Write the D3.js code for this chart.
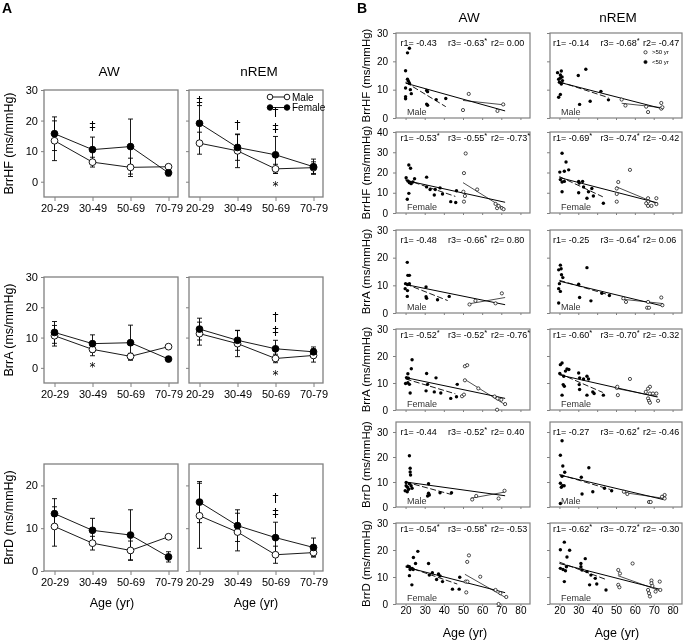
<!DOCTYPE html>
<html><head><meta charset="utf-8">
<script src="https://cdn.jsdelivr.net/npm/d3@7"></script>
<style>body{margin:0;background:#fff} text{filter:grayscale(1)}</style>
</head><body><svg id="c" width="685" height="640"></svg>
<script>
// ---------------- DATA: panel A (mean ± SD by age group) ----------------
const ageGroups = ["20-29", "30-49", "50-69", "70-79"];

const hfAwMaleMean = [13.4, 6.4, 4.7, 4.9];
const hfAwMaleSd = [6.5, 1.6, 3.0, 0.5];
const hfAwFemaleMean = [15.7, 10.5, 11.5, 2.9];
const hfAwFemaleSd = [5.5, 4.1, 9.0, 1.0];
const hfNremMaleMean = [12.6, 10.1, 4.2, 4.6];
const hfNremMaleSd = [3.6, 5.5, 1.5, 1.9];
const hfNremFemaleMean = [19.1, 11.2, 8.8, 4.9];
const hfNremFemaleSd = [5.8, 4.2, 6.0, 2.5];

const aAwMaleMean = [10.6, 6.1, 3.8, 7.0];
const aAwMaleSd = [3.4, 2.1, 1.0, 0.4];
const aAwFemaleMean = [11.7, 8.0, 8.3, 2.9];
const aAwFemaleSd = [3.6, 2.9, 5.8, 0.8];
const aNremMaleMean = [11.3, 8.0, 3.1, 4.1];
const aNremMaleSd = [3.8, 4.3, 1.4, 2.2];
const aNremFemaleMean = [12.8, 9.1, 6.3, 5.3];
const aNremFemaleSd = [3.6, 3.3, 2.8, 1.6];

const dAwMaleMean = [10.4, 6.5, 4.8, 8.0];
const dAwMaleSd = [4.6, 1.6, 2.2, 0.3];
const dAwFemaleMean = [13.4, 9.5, 8.4, 3.3];
const dAwFemaleSd = [3.5, 2.8, 5.9, 1.2];
const dNremMaleMean = [12.9, 9.1, 3.8, 4.3];
const dNremMaleSd = [7.6, 4.4, 2.0, 1.0];
const dNremFemaleMean = [16.1, 10.6, 7.8, 5.5];
const dNremFemaleSd = [4.8, 3.7, 3.6, 2.2];

// significance marks: [row, col, group, value, symbol]
const sigMarks = [
  [0, 0, "30-49", 18.0, "‡"],
  [0, 1, "20-29", 26.2, "‡"],
  [0, 1, "30-49", 18.4, "†"],
  [0, 1, "50-69", 22.6, "†"],
  [0, 1, "50-69", 17.5, "‡"],
  [0, 1, "50-69", -0.3, "*"],
  [1, 0, "30-49", 1.3, "*"],
  [1, 1, "50-69", 16.8, "†"],
  [1, 1, "50-69", 11.9, "‡"],
  [1, 1, "50-69", -1.3, "*"],
  [2, 1, "50-69", 17.0, "†"],
  [2, 1, "50-69", 13.5, "‡"]
];

// ---------------- DATA: panel B (age, value) ----------------
const hfAwMaleYoung = [[21,23],[22,24.6],[20,16.7],[21,13.7],[21.5,13],[20,10.6],[22.5,10],[20,7.5],[20,6.8],[23,8.6],[22,12.3],[31,9.7],[31.5,9.3],[31,4.9],[31.5,4.5],[36,6.5],[41,6.9]];
const hfAwMaleOld = [[50,2.8],[53,8.5],[68,2.5],[71,4.8]];
const hfAwMaleFitAll = [[20,12.3],[72,2.5]];
const hfAwMaleFitYoung = [[20,12.6],[41,4]];
const hfAwMaleFitOld = [[50,6.2],[72,4.6]];

const hfNremMaleYoung = [[19,16],[20.5,15.2],[21,16.6],[19.6,13.7],[20.5,14.1],[21.4,14.5],[20,12.6],[21,12],[19.6,7.3],[20.5,8.3],[21.6,13.2],[30,15],[34,17.2],[30.7,4.8],[36.3,5.9],[42,9.4],[46,6.4]];
const hfNremMaleOld = [[53,6.5],[55,4.4],[67,2.1],[66,4],[74,5.3],[74,3.3],[74.6,3.8]];
const hfNremMaleFitAll = [[20,12.6],[75,3.2]];
const hfNremMaleFitYoung = [[20,12.8],[46,7.2]];
const hfNremMaleFitOld = [[53,5.2],[75,3.6]];

const hfAwFemaleYoung = [[20.3,17.4],[21.7,23.7],[22.6,22.1],[21.2,15.8],[22,15],[22.9,14.5],[23.8,15.3],[24.7,16.9],[21.7,9.7],[20.9,6.8],[31,17.7],[31,12.9],[32.8,11.6],[35.5,11.6],[38,12.4],[35,8.9],[39.3,9.4],[43.6,5.6],[46.2,5.2],[46.6,11]];
const hfAwFemaleOld = [[51.4,29.4],[50.5,19.7],[50.2,10.5],[51,8.4],[50.5,5.6],[57.4,11.6],[67,4.5],[67.8,2.4],[70.3,2.4],[71.2,1.9],[68.6,3.5]];
const hfAwFemaleFitAll = [[20,16.1],[72,5.3]];
const hfAwFemaleFitYoung = [[20,16.5],[46,8.2]];
const hfAwFemaleFitOld = [[50,15],[72,2]];

const hfNremFemaleYoung = [[21.4,29.5],[22.6,20.6],[23.5,25.2],[24.9,21.3],[20.2,20.2],[20.5,16.5],[21.4,15.3],[22.6,15.6],[21.4,10.5],[30.2,15.6],[30.5,14.8],[32.3,15.6],[32.8,12.9],[30.2,10],[35.4,10.5],[34.6,7.3],[37.2,12.1],[38,8.4],[43.3,4.8]];
const hfNremFemaleOld = [[51.2,15.3],[50.4,12.1],[50.4,9.4],[50.4,5.6],[57.4,21.3],[67,7.3],[67,5.6],[67,3.5],[66,4.8],[68.8,3.5],[71.4,7.3],[71.4,4.4]];
const hfNremFemaleFitAll = [[20,17.5],[72,5]];
const hfNremFemaleFitYoung = [[20,18],[43,8]];
const hfNremFemaleFitOld = [[50,13],[72,4.5]];

const aAwMaleYoung = [[20.9,18.3],[21.2,13.6],[22,13.6],[20,10.6],[21,10.3],[22,10.6],[19.8,8.8],[21,8.1],[20.9,6],[30.7,9.4],[30.7,5.9],[31,5.3],[36.7,4.8],[42.8,6]];
const aAwMaleOld = [[53.4,3.1],[56.5,4.4],[67,3.5],[70.3,7.1]];
const aAwMaleFitAll = [[20,10.3],[72,3]];
const aAwMaleFitYoung = [[20,10.5],[42,4.5]];
const aAwMaleFitOld = [[53,3.3],[72,5.6]];

const aNremMaleYoung = [[20.5,17.3],[20.9,16],[19.6,15.6],[21.1,13.8],[21.8,12.8],[20,10.6],[19.6,8.8],[20.5,7.8],[19.6,3.6],[34.6,16.4],[30.2,10.4],[30.7,5.6],[36.7,4.4],[42.5,7.1],[46.5,6.3]];
const aNremMaleOld = [[53.9,5.3],[55.3,4],[67,4],[66.5,1.9],[67.5,1.9],[74,5.6],[74.6,2.8]];
const aNremMaleFitAll = [[20,11.5],[75,2.5]];
const aNremMaleFitYoung = [[20,11.8],[46,6.6]];
const aNremMaleFitOld = [[53,5],[75,3.4]];

const aAwFemaleYoung = [[21.2,13.4],[23,15.3],[23.4,18.6],[31,13.5],[35.9,11.9],[20.5,12],[21.5,11.8],[20,9.8],[21.2,10.1],[22,9.5],[22.4,6.3],[30.7,7.1],[31.5,9.5],[35,6.7],[38.4,6.3],[43.6,4.3],[46.6,4.9],[47,9.5]];
const aAwFemaleOld = [[51,16.2],[52.2,16.6],[51,11],[58,8],[49.5,5.1],[50.5,5.7],[68,4.3],[70,3.8],[72,2.2],[67.8,0.1],[66.5,5]];
const aAwFemaleFitAll = [[20,12],[72,4.3]];
const aAwFemaleFitYoung = [[20,11.5],[46,6]];
const aAwFemaleFitOld = [[51,11.3],[72,2]];

const aNremFemaleYoung = [[20.5,16.8],[21.4,17.4],[20.2,13.5],[22.3,12.5],[23.2,14.4],[24,15.2],[25,15],[22,9.4],[30.2,13.7],[30.7,11.9],[32.8,11.5],[34.6,12.5],[35.4,11.5],[30.5,9.4],[22.6,8.8],[21.4,5.5],[30.7,7.6],[34.6,5.5],[37.7,6.7],[38.4,6.1],[43.3,5.5]];
const aNremFemaleOld = [[50.4,8.2],[50.7,8.6],[51,5.5],[57.4,11.5],[68,8.6],[67,7.9],[68,6.1],[69.6,6.1],[71.4,6.1],[67,4.3],[67.5,3.4],[68,2.7],[72.3,3.4],[65.8,6.7]];
const aNremFemaleFitAll = [[20,13],[72,4.8]];
const aNremFemaleFitYoung = [[20,13.5],[43,6.5]];
const aNremFemaleFitOld = [[50,8],[72,5]];

const dAwMaleYoung = [[22,20.5],[22.4,15.5],[22.4,14],[22.6,12.8],[20.3,8.5],[21,7.9],[21.6,7.1],[19.8,6.5],[20.9,6.1],[22,9.3],[22.9,8.5],[23.4,7.5],[20.3,9.8],[32,9.3],[32,5.5],[32.4,4.8],[31.5,4.4],[38,5.7],[44,5.7]];
const dAwMaleOld = [[54.8,3],[56.9,4.4],[68.6,3.4],[71.7,6.5]];
const dAwMaleFitAll = [[20,10],[72,4.5]];
const dAwMaleFitYoung = [[20,10],[44,5]];
const dAwMaleFitOld = [[54,3.5],[72,6]];

const dNremMaleYoung = [[20.5,20.7],[21.4,26.5],[21.8,16.4],[22.8,13.9],[20.5,9.5],[21,7.9],[21.6,8.5],[22.5,8.5],[21.4,12.3],[20.5,1.4],[31.6,11.9],[35.6,15.7],[32,5.2],[37.7,6.1],[43.9,7.5],[47.7,6.5]];
const dNremMaleOld = [[54.2,6.1],[56,5.2],[67.5,2],[68.4,2],[75.8,4.8],[75.8,3.4],[74.4,4.1]];
const dNremMaleFitAll = [[20,12.8],[75,3]];
const dNremMaleFitYoung = [[20,13],[47,7]];
const dNremMaleFitOld = [[54,5.8],[75,3.5]];

const dAwFemaleYoung = [[26.4,19.5],[24.1,17.2],[25.2,15],[22,13.8],[21.2,14],[22.4,12.8],[23.4,13.2],[24,12.8],[22,10.5],[23.3,7.1],[32,15],[32.4,10.7],[34,11.6],[36.2,9.1],[37.2,11.1],[38,10.4],[39.3,8.3],[44.5,5.5],[48,5.5],[48.3,9.9]];
const dAwFemaleOld = [[52.2,15.6],[53.1,18],[51.4,8.3],[52.3,8.3],[51.7,4.3],[59,10.1],[67,5.2],[69.5,4],[68.6,0],[72.6,2.6]];
const dAwFemaleFitAll = [[20,13.7],[72,4.2]];
const dAwFemaleFitYoung = [[20,14],[47,7.4]];
const dAwFemaleFitOld = [[51,11],[72,2.5]];

const dNremFemaleYoung = [[20.5,20.1],[22.6,22.9],[25.4,19.9],[24,17.4],[20.5,13.2],[21.9,12.8],[23.2,12.3],[23.7,13.8],[22.6,8.3],[31.4,15],[31.4,13.8],[32,12.6],[33.7,16.8],[34.6,12],[36,7.1],[36.7,10.7],[39,9.5],[39.8,7.4],[44.7,5.2]];
const dNremFemaleOld = [[51.2,12.6],[52.1,11.3],[51.2,7.1],[51.8,6.2],[58.8,15],[67,5.2],[67.5,4],[68,2.8],[68.8,8.7],[68.8,7.7],[69.3,6.7],[71,4.6],[73.2,8.3],[73.5,5.2]];
const dNremFemaleFitAll = [[20,15],[73,5.5]];
const dNremFemaleFitYoung = [[20,15.5],[45,9]];
const dNremFemaleFitOld = [[51,10.5],[73,5]];

// correlation labels r1, r3, r2
const rLabels = [
  [["-0.43","-0.63*","0.00"],   ["-0.14","-0.68*","-0.47"]],
  [["-0.53*","-0.55*","-0.73*"],["-0.69*","-0.74*","-0.42"]],
  [["-0.48","-0.66*","0.80"],   ["-0.25","-0.64*","0.06"]],
  [["-0.52*","-0.52*","-0.76*"],["-0.60*","-0.70*","-0.32"]],
  [["-0.44","-0.52*","0.40"],   ["-0.27","-0.62*","-0.46"]],
  [["-0.54*","-0.58*","-0.53"], ["-0.62*","-0.72*","-0.30"]]
];
const rNames = ["r1", "r3", "r2"];
const yLabels = ["BrrHF (ms/mmHg)", "BrrA (ms/mmHg)", "BrrD (ms/mmHg)"];
const stateNames = ["AW", "nREM"];
const sexNames = ["Male", "Female"];
const ageTicks = [20, 30, 40, 50, 60, 70, 80];

// ---------------- DRAWING ----------------
const svg = d3.select("#c");
const FONT = "'Liberation Sans', Arial, Helvetica, sans-serif";
const FRAME = "#808080";

function styleAxis(sel, fs) {
  sel.select(".domain").remove();
  sel.selectAll("line").attr("stroke", FRAME);
  sel.selectAll("text").attr("font-size", fs).attr("font-family", FONT).attr("fill", "#000");
  sel.attr("font-family", FONT);
}

function txt(x, y, s, fs, opts = {}) {
  const t = svg.append("text").attr("x", x).attr("y", y).text(s)
    .attr("font-size", fs).attr("font-family", opts.font || FONT).attr("fill", opts.fill || "#000")
    .attr("text-anchor", opts.anchor || "middle");
  if (opts.bold) t.attr("font-weight", "bold");
  if (opts.rotate) t.attr("transform", `rotate(-90,${x},${y})`);
  return t;
}

// Panel A layout
const aCols = [[44, 178], [189, 323]];
const aRows = [
  { y0: 90, y1: 197, dom: [-5, 30], ticks: [0, 10, 20, 30] },
  { y0: 277, y1: 383, dom: [-5, 30], ticks: [0, 10, 20, 30] },
  { y0: 464, y1: 571, dom: [0, 25], ticks: [0, 10, 20] }
];
const aData = [
  [[hfAwMaleMean, hfAwMaleSd, hfAwFemaleMean, hfAwFemaleSd], [hfNremMaleMean, hfNremMaleSd, hfNremFemaleMean, hfNremFemaleSd]],
  [[aAwMaleMean, aAwMaleSd, aAwFemaleMean, aAwFemaleSd], [aNremMaleMean, aNremMaleSd, aNremFemaleMean, aNremFemaleSd]],
  [[dAwMaleMean, dAwMaleSd, dAwFemaleMean, dAwFemaleSd], [dNremMaleMean, dNremMaleSd, dNremFemaleMean, dNremFemaleSd]]
];
const aScales = [];

aRows.forEach((R, r) => {
  aScales.push([]);
  aCols.forEach(([x0, x1], c) => {
    const x = d3.scalePoint().domain(ageGroups).range([x0 + 10.5, x1 - 9.5]);
    const y = d3.scaleLinear().domain(R.dom).range([R.y1, R.y0]);
    aScales[r].push({ x, y });
    const g = svg.append("g");
    const ya = d3.axisLeft(y).tickValues(R.ticks).tickSize(3).tickPadding(3);
    if (c === 1) ya.tickFormat("");
    g.append("g").attr("transform", `translate(${x0},0)`).call(ya).call(s => styleAxis(s, 11));
    const xa = d3.axisBottom(x).tickSize(4).tickPadding(3);
    g.append("g").attr("transform", `translate(0,${R.y1})`).call(xa).call(s => styleAxis(s, 11));
    g.append("rect").attr("x", x0).attr("y", R.y0).attr("width", x1 - x0).attr("height", R.y1 - R.y0)
      .attr("fill", "none").attr("stroke", FRAME).attr("stroke-width", 1.3);

    const [mM, mS, fM, fS] = aData[r][c];
    const series = [[mM, mS, "#fff"], [fM, fS, "#000"]].map(([m, s, fill]) => ({
      fill, pts: ageGroups.map((gn, i) => ({ g: gn, v: m[i], e: s[i] }))
    }));
    series.forEach(S => {
      g.append("path").datum(S.pts)
        .attr("d", d3.line().x(d => x(d.g)).y(d => y(d.v)))
        .attr("fill", "none").attr("stroke", "#000").attr("stroke-width", 0.9);
      const eb = g.append("g").attr("stroke", "#000").attr("stroke-width", 0.9);
      eb.selectAll(".v").data(S.pts).enter().append("line")
        .attr("x1", d => x(d.g)).attr("x2", d => x(d.g))
        .attr("y1", d => y(d.v - d.e)).attr("y2", d => y(d.v + d.e));
      [-1, 1].forEach(sg => {
        eb.selectAll(null).data(S.pts).enter().append("line")
          .attr("x1", d => x(d.g) - 2.5).attr("x2", d => x(d.g) + 2.5)
          .attr("y1", d => y(d.v + sg * d.e)).attr("y2", d => y(d.v + sg * d.e));
      });
    });
    series.forEach(S => {
      g.selectAll(null).data(S.pts).enter().append("circle")
        .attr("cx", d => x(d.g)).attr("cy", d => y(d.v)).attr("r", 3.4)
        .attr("fill", S.fill).attr("stroke", "#000").attr("stroke-width", 0.9);
    });
  });
});

sigMarks.forEach(([r, c, gname, v, s]) => {
  const { x, y } = aScales[r][c];
  txt(x(gname), y(v), s, 12, { font: "'DejaVu Sans', sans-serif" })
    .attr("dy", s === "*" ? "0.6em" : "0.3em");
});

// Panel A legend
[["Male", "#fff", 97], ["Female", "#000", 107.5]].forEach(([lab, fill, ly]) => {
  svg.append("line").attr("x1", 270).attr("x2", 287).attr("y1", ly).attr("y2", ly).attr("stroke", "#000").attr("stroke-width", 0.9);
  [270, 287].forEach(cx => svg.append("circle").attr("cx", cx).attr("cy", ly).attr("r", 2.8)
    .attr("fill", fill).attr("stroke", "#000").attr("stroke-width", 0.9));
  txt(292, ly + 3.5, lab, 10, { anchor: "start" });
});

// Panel A texts
txt(2, 13, "A", 14, { anchor: "start", bold: true });
txt(109, 76, stateNames[0], 13.5);
txt(259, 76, stateNames[1], 13.5);
aRows.forEach((R, r) => txt(13, (R.y0 + R.y1) / 2, yLabels[r], 12.5, { rotate: true }));
txt(112, 607, "Age (yr)", 12.5);
txt(256, 607, "Age (yr)", 12.5);

// Panel B layout
const bCols = [[396, 530], [550, 682]];
const bRows = [
  { y0: 33, y1: 118, dom: [0, 30], ticks: [0, 10, 20, 30] },
  { y0: 132, y1: 213, dom: [0, 40], ticks: [0, 10, 20, 30, 40] },
  { y0: 230, y1: 313, dom: [0, 30], ticks: [0, 10, 20, 30] },
  { y0: 329, y1: 410, dom: [0, 30], ticks: [0, 10, 20, 30] },
  { y0: 422, y1: 507, dom: [0, 34], ticks: [0, 10, 20, 30] },
  { y0: 523, y1: 604, dom: [0, 30], ticks: [0, 10, 20, 30] }
];
const bData = [
  [[hfAwMaleYoung, hfAwMaleOld, hfAwMaleFitAll, hfAwMaleFitYoung, hfAwMaleFitOld], [hfNremMaleYoung, hfNremMaleOld, hfNremMaleFitAll, hfNremMaleFitYoung, hfNremMaleFitOld]],
  [[hfAwFemaleYoung, hfAwFemaleOld, hfAwFemaleFitAll, hfAwFemaleFitYoung, hfAwFemaleFitOld], [hfNremFemaleYoung, hfNremFemaleOld, hfNremFemaleFitAll, hfNremFemaleFitYoung, hfNremFemaleFitOld]],
  [[aAwMaleYoung, aAwMaleOld, aAwMaleFitAll, aAwMaleFitYoung, aAwMaleFitOld], [aNremMaleYoung, aNremMaleOld, aNremMaleFitAll, aNremMaleFitYoung, aNremMaleFitOld]],
  [[aAwFemaleYoung, aAwFemaleOld, aAwFemaleFitAll, aAwFemaleFitYoung, aAwFemaleFitOld], [aNremFemaleYoung, aNremFemaleOld, aNremFemaleFitAll, aNremFemaleFitYoung, aNremFemaleFitOld]],
  [[dAwMaleYoung, dAwMaleOld, dAwMaleFitAll, dAwMaleFitYoung, dAwMaleFitOld], [dNremMaleYoung, dNremMaleOld, dNremMaleFitAll, dNremMaleFitYoung, dNremMaleFitOld]],
  [[dAwFemaleYoung, dAwFemaleOld, dAwFemaleFitAll, dAwFemaleFitYoung, dAwFemaleFitOld], [dNremFemaleYoung, dNremFemaleOld, dNremFemaleFitAll, dNremFemaleFitYoung, dNremFemaleFitOld]]
];

bRows.forEach((R, r) => {
  const sex = sexNames[r % 2];
  bCols.forEach(([x0, x1], c) => {
    const x = d3.scaleLinear().domain([15, 85]).range([x0, x1]);
    const y = d3.scaleLinear().domain(R.dom).range([R.y1, R.y0]);
    const g = svg.append("g");
    const ya = d3.axisLeft(y).tickValues(R.ticks).tickSize(3).tickPadding(5);
    if (c === 1) ya.tickFormat("");
    g.append("g").attr("transform", `translate(${x0},0)`).call(ya).call(s => styleAxis(s, 10));
    const xa = d3.axisBottom(x).tickValues(ageTicks).tickSize(2).tickPadding(1);
    if (r !== bRows.length - 1) xa.tickFormat("");
    g.append("g").attr("transform", `translate(0,${R.y1})`).call(xa).call(s => styleAxis(s, 10));
    g.append("rect").attr("x", x0).attr("y", R.y0).attr("width", x1 - x0).attr("height", R.y1 - R.y0)
      .attr("fill", "none").attr("stroke", FRAME).attr("stroke-width", 1.2);

    const [young, old, fitAll, fitYoung, fitOld] = bData[r][c];
    const line = d3.line().x(d => x(d[0])).y(d => y(d[1]));
    g.append("path").datum(fitAll).attr("d", line).attr("stroke", "#000").attr("stroke-width", 1).attr("fill", "none");
    g.append("path").datum(fitYoung).attr("d", line).attr("stroke", "#000").attr("stroke-width", 0.9)
      .attr("stroke-dasharray", "6,2.5").attr("fill", "none");
    g.append("path").datum(fitOld).attr("d", line).attr("stroke", "#000").attr("stroke-width", 0.7).attr("fill", "none");
    g.selectAll(null).data(young).enter().append("circle")
      .attr("cx", d => x(d[0])).attr("cy", d => y(d[1])).attr("r", 1.7).attr("fill", "#000");
    g.selectAll(null).data(old).enter().append("circle")
      .attr("cx", d => x(d[0])).attr("cy", d => y(d[1])).attr("r", 1.6)
      .attr("fill", "#fff").attr("stroke", "#000").attr("stroke-width", 0.7);

    // r labels
    const ty = R.y0 + (sex === "Male" ? 13 : 8.5);
    const offs = c === 0 ? [4.5, 52, 95] : [3, 50.5, 93];
    rLabels[r][c].forEach((val, k) => {
      const star = val.endsWith("*");
      const t = svg.append("text").attr("x", x0 + offs[k]).attr("y", ty)
        .attr("font-size", 9).attr("font-family", FONT).attr("fill", "#000");
      t.append("tspan").text(`${rNames[k]}= ${star ? val.slice(0, -1) : val}`);
      if (star) t.append("tspan").attr("dy", -3).attr("font-size", 7.5).text("*");
    });
    txt(x0 + 11, R.y1 - 3, sex, 9, { anchor: "start", fill: "#333" });
  });
  txt(370, (R.y0 + R.y1) / 2, yLabels[Math.floor(r / 2)], 11.5, { rotate: true });
});

// Panel B legend
[[">50 yr", "#fff", 52.3], ["<50 yr", "#000", 62]].forEach(([lab, fill, ly]) => {
  svg.append("circle").attr("cx", 645.5).attr("cy", ly).attr("r", 1.6)
    .attr("fill", fill).attr("stroke", "#000").attr("stroke-width", 0.7);
  txt(652, ly + 2, lab, 6, { anchor: "start" });
});

txt(357, 13, "B", 14, { anchor: "start", bold: true });
txt(469, 22, stateNames[0], 13.5);
txt(618, 22, stateNames[1], 13.5);
txt(465, 637, "Age (yr)", 12.5);
txt(617, 637, "Age (yr)", 12.5);
</script></body></html>
